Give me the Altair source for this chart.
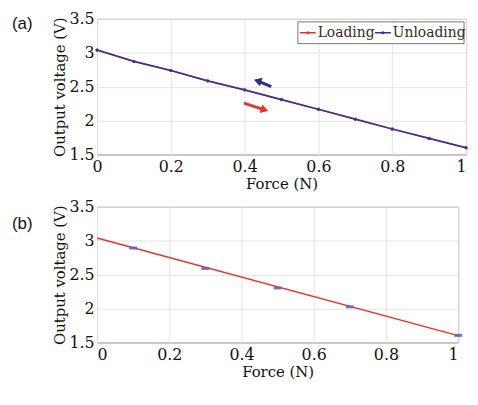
import altair as alt
import pandas as pd

# ---- data ----
force = [0.0, 0.1, 0.2, 0.3, 0.4, 0.5, 0.6, 0.7, 0.8, 0.9, 1.0]
loading = [3.04, 2.876, 2.740, 2.588, 2.455, 2.312, 2.168, 2.022, 1.877, 1.738, 1.600]
unloading = [3.04, 2.872, 2.738, 2.584, 2.452, 2.308, 2.165, 2.020, 1.874, 1.736, 1.598]

eb_force = [0.1, 0.3, 0.5, 0.7, 1.0]
eb_mean = [2.893, 2.592, 2.304, 2.025, 1.604]
eb_err = [0.010, 0.008, 0.008, 0.008, 0.008]

fit_force = [0.0, 1.0]
fit_volt = [3.04, 1.60]

x_ticks = [0, 0.2, 0.4, 0.6, 0.8, 1.0]
y_ticks = [1.5, 2.0, 2.5, 3.0, 3.5]

# arrows: tail (x0,y0) -> tip (x1,y1)
arrow_x0 = [0.472, 0.398]
arrow_y0 = [2.500, 2.257]
arrow_x1 = [0.435, 0.454]
arrow_y1 = [2.586, 2.157]
arrow_angle = [286, 108]
arrow_color = ["#2b2f8a", "#e8312d"]

series_names = ["Loading", "Unloading"]

RED = "#e8312d"
BLUE = "#34339a"
SERIF = "DejaVu Serif"

df_lines = pd.concat([
    pd.DataFrame({"Force": force, "V": loading, "series": "Loading"}),
    pd.DataFrame({"Force": force, "V": unloading, "series": "Unloading"}),
])
df_arrows = pd.DataFrame({"x0": arrow_x0, "y0": arrow_y0, "x1": arrow_x1,
                          "y1": arrow_y1, "ang": arrow_angle, "c": arrow_color})
df_eb = pd.DataFrame({"Force": eb_force, "V": eb_mean,
                      "lo": [m - e for m, e in zip(eb_mean, eb_err)],
                      "hi": [m + e for m, e in zip(eb_mean, eb_err)]})
df_fit = pd.DataFrame({"Force": fit_force, "V": fit_volt})

xscale = alt.Scale(domain=[0, 1], nice=False, zero=False)
yscale = alt.Scale(domain=[1.5, 3.5], nice=False, zero=False)

XAX_TOP = alt.Axis(values=x_ticks, format="~g", title="Force (N)", labelOverlap=False,
                   labelAlign={"condition": {"test": "datum.value >= 1", "value": "right"},
                               "value": "center"})
XAX_BOT = alt.Axis(values=x_ticks, format="~g", title="Force (N)", labelOverlap=False)
YAX = alt.Axis(values=y_ticks, format="~g", title="Output voltage (V)", labelOverlap=False)

TOP_W = 373


def top_layers():
    lines = alt.Chart(df_lines).mark_line(
        strokeWidth=1.5, point=alt.OverlayMarkDef(size=10, filled=True)
    ).encode(
        x=alt.X("Force:Q", scale=xscale, axis=XAX_TOP),
        y=alt.Y("V:Q", scale=yscale, axis=YAX),
        color=alt.Color("series:N",
                        scale=alt.Scale(domain=series_names, range=[RED, BLUE]),
                        legend=None)
    )
    shaft = alt.Chart(df_arrows).mark_rule(strokeWidth=3).encode(
        x=alt.X("x0:Q", scale=xscale, axis=XAX_TOP),
        y=alt.Y("y0:Q", scale=yscale, axis=YAX),
        x2="x1:Q", y2="y1:Q", color=alt.Color("c:N", scale=None)
    )
    head = alt.Chart(df_arrows).mark_point(shape="triangle-up", filled=True, size=80,
                                           opacity=1).encode(
        x=alt.X("x1:Q", scale=xscale, axis=XAX_TOP),
        y=alt.Y("y1:Q", scale=yscale, axis=YAX),
        angle=alt.Angle("ang:Q", scale=None), color=alt.Color("c:N", scale=None)
    )
    return [lines, shaft, head]


# manual legend (pixel placement inside the top plot, anchored to its right edge)
leg = pd.DataFrame({"label": series_names, "c": [RED, BLUE],
                    "s0": [TOP_W - 168, TOP_W - 92], "s1": [TOP_W - 152, TOP_W - 76],
                    "tx": [TOP_W - 150, TOP_W - 74]})
leg_box = alt.Chart(pd.DataFrame({"a": [0]})).mark_rect(
    fill="white", stroke="#777", strokeWidth=1
).encode(x=alt.value(TOP_W - 170), x2=alt.value(TOP_W - 2), y=alt.value(3), y2=alt.value(25))
leg_line = alt.Chart(leg).mark_rule(strokeWidth=1.5).encode(
    x=alt.X("s0:Q", scale=None), x2="s1:Q", y=alt.value(14),
    color=alt.Color("c:N", scale=None))
leg_dot = alt.Chart(leg).transform_calculate(m="(datum.s0 + datum.s1) / 2").mark_point(
    filled=True, size=10, opacity=1).encode(
    x=alt.X("m:Q", scale=None), y=alt.value(14), color=alt.Color("c:N", scale=None))
leg_text = alt.Chart(leg).mark_text(
    font=SERIF, fontSize=14, align="left", baseline="middle", color="#3a2a1a"
).encode(x=alt.X("tx:Q", scale=None), y=alt.value(14.5), text="label:N")

label_a = alt.Chart(pd.DataFrame({"t": ["(a)"]})).mark_text(
    font="Liberation Sans", fontSize=17, align="left", baseline="top", color="#111"
).encode(x=alt.value(-86), y=alt.value(-3), text="t:N")

top = alt.layer(*top_layers(), leg_box, leg_line, leg_dot, leg_text,
                label_a).properties(width=TOP_W, height=137)

fit = alt.Chart(df_fit).mark_line(color=RED, strokeWidth=1.5).encode(
    x=alt.X("Force:Q", scale=xscale, axis=XAX_BOT),
    y=alt.Y("V:Q", scale=yscale, axis=YAX))
ebar = alt.Chart(df_eb).mark_rule(color=BLUE, strokeWidth=1.5).encode(
    x=alt.X("Force:Q", scale=xscale, axis=XAX_BOT),
    y=alt.Y("lo:Q", scale=yscale, axis=YAX), y2="hi:Q")
caps = alt.Chart(df_eb).mark_tick(orient="horizontal", size=8, thickness=3,
                                  color="#6a5fc8", opacity=0.9).encode(
    x=alt.X("Force:Q", scale=xscale, axis=XAX_BOT),
    y=alt.Y("V:Q", scale=yscale, axis=YAX))
label_b = alt.Chart(pd.DataFrame({"t": ["(b)"]})).mark_text(
    font="Liberation Sans", fontSize=17, align="left", baseline="top", color="#111"
).encode(x=alt.value(-86), y=alt.value(9), text="t:N")

bottom = alt.layer(fit, ebar, caps, label_b).properties(width=365, height=137)

chart = alt.vconcat(top, bottom, spacing=6).properties(
    padding={"left": 3, "top": 0, "right": 0, "bottom": 0}
).configure_view(stroke="#555", strokeWidth=1).configure_axis(
    grid=True, gridColor="#e4e4e4", gridWidth=1, domain=False, ticks=False,
    labelFont=SERIF, labelFontSize=16, labelColor="#111",
    labelOverlap=False,
    titleFont=SERIF, titleFontSize=15, titleFontWeight="normal", titleColor="#111",
).configure_axisY(titlePadding=1, labelPadding=3).configure_axisX(titlePadding=2, labelPadding=4)

chart.save("out.html", embed_options={"renderer": "svg", "actions": False})
